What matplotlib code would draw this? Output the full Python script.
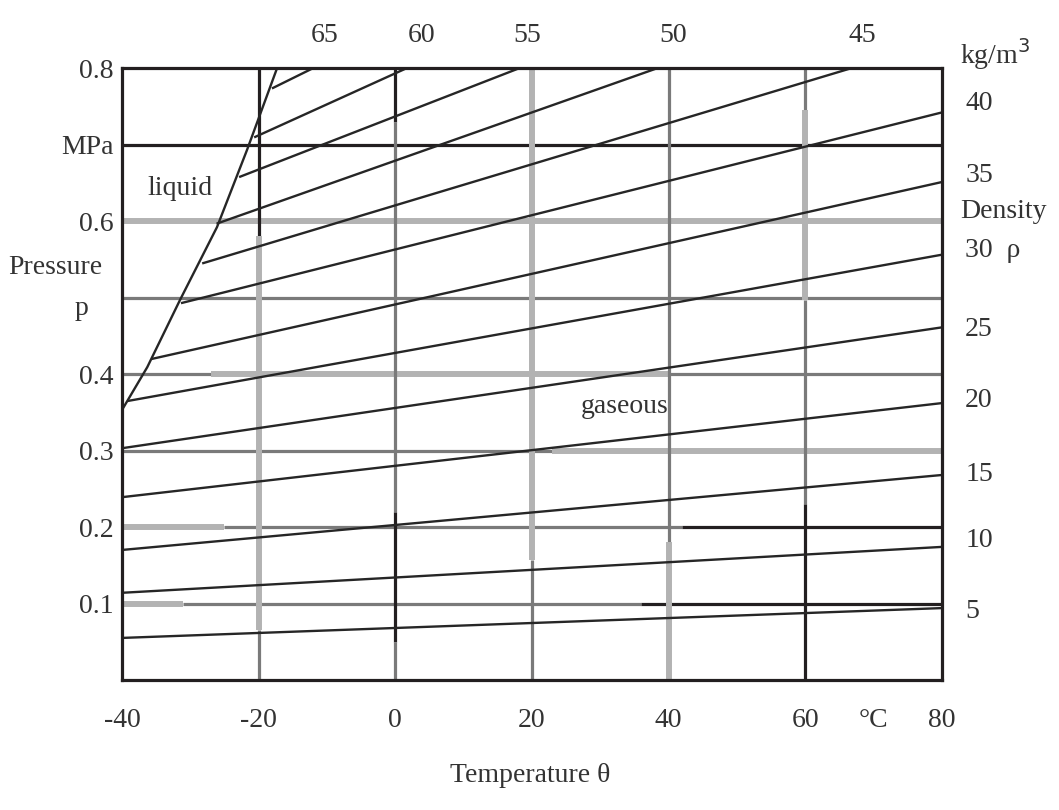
import numpy as np
import matplotlib
matplotlib.use("Agg")
import matplotlib.pyplot as plt

plt.rcParams['font.family'] = ['Liberation Serif', 'DejaVu Serif']

# density lines (kg/m3): start point on saturation curve / left edge, end point on right / top edge
density = [5, 10, 15, 20, 25, 30, 35, 40, 45, 50, 55, 60, 65]
start_T = [-40, -40, -40, -40, -40, -39, -35.5, -31.2, -28.1, -26, -22.7, -20.5, -17.9]
start_P = [0.055, 0.114, 0.170, 0.239, 0.303, 0.365, 0.42, 0.493, 0.545, 0.597, 0.658, 0.71, 0.774]
end_T = [80, 80, 80, 80, 80, 80, 80, 80, 66.8, 38.4, 18.2, 1.7, -12]
end_P = [0.094, 0.174, 0.268, 0.362, 0.461, 0.556, 0.651, 0.742, 0.8, 0.8, 0.8, 0.8, 0.8]

# saturation (liquid / gas boundary)
sat_T = [-40, -36.3, -31.5, -26.1, -21.7, -17.3]
sat_P = [0.353, 0.409, 0.497, 0.592, 0.693, 0.80]

xticks = [-40, -20, 0, 20, 40, 60, 70, 80]
xlabels = ['-40', '-20', '0', '20', '40', '60', '°C', '80']
yticks = [0.1, 0.2, 0.3, 0.4, 0.6, 0.7, 0.8]
ylabels = ['0.1', '0.2', '0.3', '0.4', '0.6', 'MPa', '0.8']

# labels of density lines
right_lab = ['5', '10', '15', '20', '25', '30  ρ', '35', '40']
right_lab_P = [0.089, 0.183, 0.268, 0.366, 0.458, 0.562, 0.660, 0.754]
top_lab = ['65', '60', '55', '50', '45']
top_lab_T = [-10.3, 3.9, 19.3, 40.6, 68.3]

BLACK = '#231f20'
DARK = '#7a7a7a'
LIGHT = '#b3b3b3'
# grid segments (value, from, to, colour, width)
hgrid = [
    (0.7, -40, 80, BLACK, 2.3),
    (0.6, -40, 80, LIGHT, 4.3),
    (0.5, -40, 80, DARK, 2.3),
    (0.4, -40, -27, DARK, 2.3), (0.4, -27, 40, LIGHT, 4.3), (0.4, 40, 80, DARK, 2.3),
    (0.3, -40, 23, DARK, 2.3), (0.3, 23, 80, LIGHT, 4.3),
    (0.2, -40, -25, LIGHT, 4.3), (0.2, -25, 42, DARK, 2.3), (0.2, 42, 80, BLACK, 2.3),
    (0.1, -40, -31, LIGHT, 4.3), (0.1, -31, 36, DARK, 2.3), (0.1, 36, 80, BLACK, 2.3),
]
vgrid = [
    (-20, 0.58, 0.8, BLACK, 2.3), (-20, 0.065, 0.58, LIGHT, 4.3), (-20, 0, 0.065, DARK, 2.3),
    (0, 0.73, 0.8, BLACK, 2.3), (0, 0.22, 0.73, DARK, 2.3), (0, 0.05, 0.22, BLACK, 2.3), (0, 0, 0.05, DARK, 2.3),
    (20, 0.157, 0.8, LIGHT, 4.3), (20, 0, 0.157, DARK, 2.3),
    (40, 0.18, 0.8, DARK, 2.3), (40, 0, 0.18, LIGHT, 4.3),
    (60, 0.745, 0.8, DARK, 2.3), (60, 0.497, 0.745, LIGHT, 4.3), (60, 0.23, 0.497, DARK, 2.3), (60, 0, 0.23, BLACK, 2.3),
]

fig = plt.figure(figsize=(10.59, 8.10), dpi=100)
ax = fig.add_axes([0.1152, 0.1605, 0.7743, 0.7555])
ax.set_xlim(-40, 80)
ax.set_ylim(0, 0.8)

for v, a, b, c, w in hgrid:
    ax.plot([a, b], [v, v], color=c, lw=w, solid_capstyle='butt', zorder=1)
for v, a, b, c, w in vgrid:
    ax.plot([v, v], [a, b], color=c, lw=w, solid_capstyle='butt', zorder=1)

for i in range(len(density)):
    ax.plot([start_T[i], end_T[i]], [start_P[i], end_P[i]], color='#262626', lw=1.7, zorder=3)
ax.plot(sat_T, sat_P, color='#262626', lw=1.7, zorder=3)

for s in ax.spines.values():
    s.set_linewidth(2.3)
    s.set_color(BLACK)
    s.set_zorder(5)

fs = 20
tc = '#333333'
ax.set_xticks(xticks)
ax.set_xticklabels(xlabels, fontsize=fs, color=tc)
ax.set_yticks(yticks)
ax.set_yticklabels(ylabels, fontsize=fs, color=tc)
ax.tick_params(axis='x', length=0, pad=20)
ax.tick_params(axis='y', length=0, pad=6)

for lab, p in zip(right_lab, right_lab_P):
    ax.text(83.4, p, lab, fontsize=fs, color=tc, ha='left', va='center', clip_on=False)
ax.text(82.6, 0.612, 'Density', fontsize=fs, color=tc, ha='left', va='center', clip_on=False)
ax.text(82.6, 0.818, 'kg/m$^3$', fontsize=fs, color=tc, ha='left', va='center', clip_on=False)
for lab, t in zip(top_lab, top_lab_T):
    ax.text(t, 0.842, lab, fontsize=fs, color=tc, ha='center', va='center', clip_on=False)

ax.text(-49.8, 0.539, 'Pressure', fontsize=fs, color=tc, ha='center', va='center', clip_on=False)
ax.text(-45.9, 0.486, 'p', fontsize=fs, color=tc, ha='center', va='center', clip_on=False)
ax.text(-31.5, 0.643, 'liquid', fontsize=fs, color=tc, ha='center', va='center')
ax.text(33.6, 0.358, 'gaseous', fontsize=fs, color=tc, ha='center', va='center')
fig.text(0.501, 0.043, 'Temperature θ', fontsize=fs, color=tc, ha='center', va='center')

fig.savefig('out.png', dpi=100)
